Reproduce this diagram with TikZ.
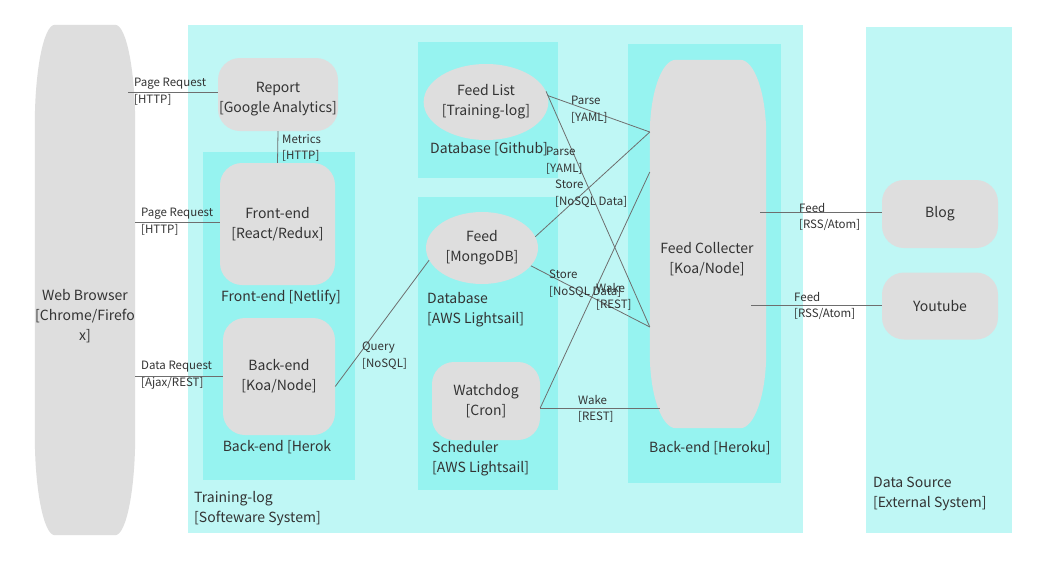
\documentclass[tikz,border=0pt]{standalone}
\usepackage{fontspec}
\setmainfont{Noto Sans CJK SC}
\definecolor{zonelight}{RGB}{191,247,245}
\definecolor{zonedark}{RGB}{150,243,240}
\definecolor{boxgray}{RGB}{222,222,222}
\definecolor{linegray}{RGB}{110,110,110}
\definecolor{textgray}{RGB}{51,51,51}
\usepackage{tikz}
\usetikzlibrary{positioning, shapes.geometric, calc}

% gray box with elliptic corners: node, x radius, y radius
\newcommand{\softbox}[3]{%
  \fill[boxgray] ($(#1.north west)+(0,#3)$)
    .. controls +(0,-0.55*#3) and +(-0.55*#2,0) .. ($(#1.north west)+(#2,0)$)
    -- ($(#1.north east)+(-#2,0)$)
    .. controls +(0.55*#2,0) and +(0,-0.55*#3) .. ($(#1.north east)+(0,#3)$)
    -- ($(#1.south east)+(0,-#3)$)
    .. controls +(0,0.55*#3) and +(0.55*#2,0) .. ($(#1.south east)+(-#2,0)$)
    -- ($(#1.south west)+(#2,0)$)
    .. controls +(-0.55*#2,0) and +(0,0.55*#3) .. ($(#1.south west)+(0,-#3)$)
    -- cycle;}

\begin{document}
\begin{tikzpicture}[x=1pt, y=-1pt,
  every node/.style={text=textgray},
  gbox/.style={fill=boxgray, rounded corners=22pt, align=center, inner sep=0pt,
    font=\fontsize{14}{20}\selectfont},
  gell/.style={ellipse, fill=boxgray, align=center, inner sep=0pt,
    font=\fontsize{14}{20}\selectfont},
  hold/.style={inner sep=0pt},
  zonetext/.style={align=left, inner sep=0pt, font=\fontsize{14}{20}\selectfont},
  conn/.style={draw=linegray, line width=0.8pt},
  clabel/.style={anchor=west, align=left, inner sep=0pt, font=\fontsize{11.5}{16.5}\selectfont}]
  \useasboundingbox[fill=white] (0,0) rectangle (1047,565);

  % Zones
  \fill[zonelight] (188,25) rectangle (803,533);
  \fill[zonelight] (866,27) rectangle (1012,533);
  \fill[zonedark] (203,152) rectangle (355,480);
  \fill[zonedark] (418,42) rectangle (558,178);
  \fill[zonedark] (418,197) rectangle (558,490);
  \fill[zonedark] (628,44) rectangle (781,483);

  \node[zonetext, anchor=west] (tlz) at (194,509) {Training-log\\{[Softeware System]}};
  \node[zonetext, anchor=west] (dsz) at (873,494) {Data Source\\{[External System]}};
  \node[zonetext] (fez) at (281,297) {Front-end [Netlify]};
  \node[zonetext] (bez) at (277,447) {Back-end [Herok};
  \node[zonetext, anchor=west] (dbgz) at (430,149) {Database [Github]};
  \node[zonetext, anchor=west] (dbaz) at (427,310) {Database\\{[AWS Lightsail]}};
  \node[zonetext, anchor=west] (scz) at (432,459) {Scheduler\\{[AWS Lightsail]}};
  \node[zonetext, anchor=west] (hkz) at (649,448) {Back-end [Heroku]};

  % Boxes
  \node[hold, minimum width=100, minimum height=510] (wb) at (85,280) {};
  \softbox{wb}{20}{100}
  \node[zonetext, align=center] (wbt) at (85,316) {Web Browser\\{[Chrome/Firefo}\\x]};
  \node[hold, minimum width=116, minimum height=368] (fc) at (708,244) {};
  \softbox{fc}{26}{75}
  \node[zonetext, align=center] (fct) at (707,259) {Feed Collecter\\{[Koa/Node]}};

  \node[gbox, minimum width=120, minimum height=73] (report) at (278,94.5) {};
  \node[zonetext, align=center] (reportt) at (278,99) {Report\\{[Google Analytics]}};
  \node[gbox, minimum width=115, minimum height=122] (fe) at (277.5,224) {Front-end\\{[React/Redux]}};
  \node[gbox, minimum width=112, minimum height=117] (be) at (279,376.5) {Back-end\\{[Koa/Node]}};
  \node[gell, minimum width=112, minimum height=76] (fl) at (486,102) {Feed List\\{[Training-log]}};
  \node[gell, minimum width=112, minimum height=72] (feed) at (482,248) {Feed\\{[MongoDB]}};
  \node[gbox, minimum width=108, minimum height=78] (wd) at (486,401) {Watchdog\\{[Cron]}};
  \node[gbox, minimum width=116, minimum height=68] (blog) at (940,214) {Blog};
  \node[gbox, minimum width=116, minimum height=67] (yt) at (940,306) {Youtube};

  % Connectors
  \draw[conn] ([yshift=2.5pt]report.west) -- ([xshift=-7pt,yshift=2.5pt]report.west -| wb.east);
  \draw[conn] ([yshift=2pt]fe.west) -- ([yshift=2pt]fe.west -| wb.east);
  \draw[conn] (be.west) -- (be.west -| wb.east);
  \draw[conn] (report.south) -- (fe.north);
  \draw[conn] ([yshift=-10pt]be.east) -- (feed.193);
  \draw[conn] (fl.6) -- ([yshift=112pt]fc.west);
  \draw[conn] (fl.10) -- ([yshift=-83pt]fc.west);
  \draw[conn] (feed.12) -- ([yshift=112pt]fc.west);
  \draw[conn] (feed.-20) -- ([yshift=-83pt]fc.west);
  \draw[conn] ([yshift=-7pt]wd.east) -- ([yshift=72pt]fc.west);
  \draw[conn] ([yshift=-7pt]wd.east) -- ([xshift=10pt,yshift=-7pt]wd.east -| fc.west);
  \draw[conn] ([yshift=2pt]blog.west) -- ([xshift=-6pt,yshift=2pt]blog.west -| fc.east);
  \draw[conn] ([yshift=1pt]yt.west) -- ([xshift=-15pt,yshift=1pt]yt.west -| fc.east);

  % Connector labels
  \node[clabel] (l1) at (134,92) {Page Request\\{[HTTP]}};
  \node[clabel] (l2) at (141,222) {Page Request\\{[HTTP]}};
  \node[clabel] (l3) at (141,375) {Data Request\\{[Ajax/REST]}};
  \node[clabel] (l4) at (282,148) {Metrics\\{[HTTP]}};
  \node[clabel] (l5) at (362,356) {Query\\{[NoSQL]}};
  \node[clabel] (l6) at (571,110) {Parse\\{[YAML]}};
  \node[clabel] (l7) at (546,161) {Parse\\{[YAML]}};
  \node[clabel] (l8) at (555,194) {Store\\{[NoSQL Data]}};
  \node[clabel] (l9) at (549,284) {Store\\{[NoSQL Data]}};
  \node[clabel] (l10) at (596,297) {Wake\\{[REST]}};
  \node[clabel] (l11) at (578,409) {Wake\\{[REST]}};
  \node[clabel] (l12) at (799,217) {Feed\\{[RSS/Atom]}};
  \node[clabel] (l13) at (794,306) {Feed\\{[RSS/Atom]}};
\end{tikzpicture}
\end{document}
